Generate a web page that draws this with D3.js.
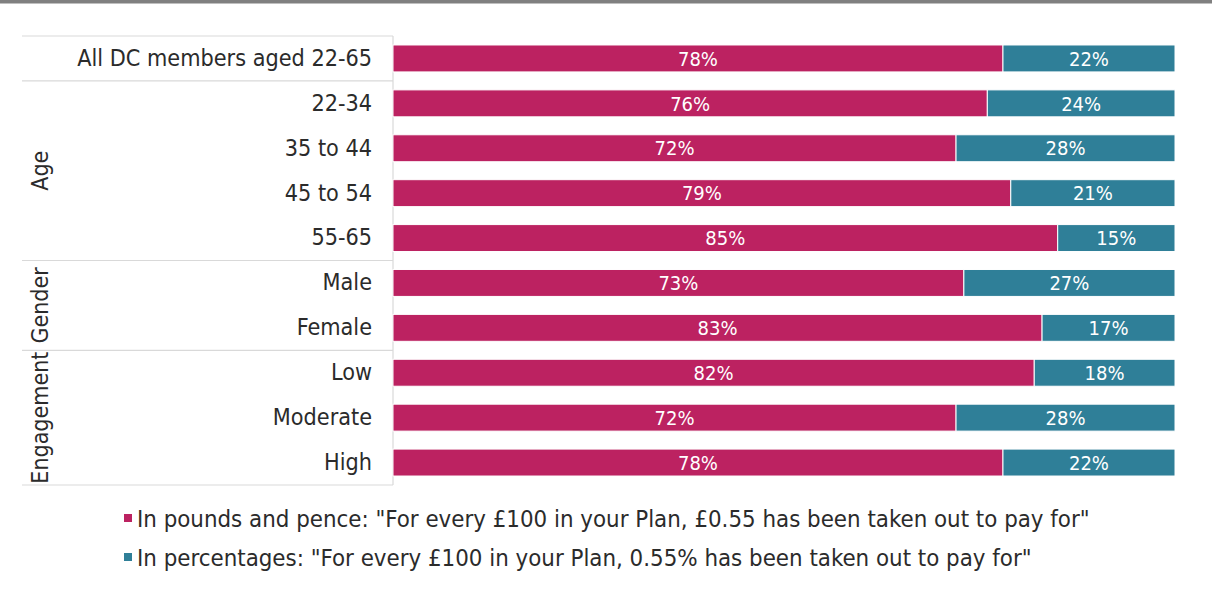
<!DOCTYPE html>
<html>
<head>
<meta charset="utf-8">
<script src="https://cdn.jsdelivr.net/npm/d3@7"></script>
<style>
  html, body { margin: 0; padding: 0; background: #fff; }
  svg { display: block; }
  text { font-family: "DejaVu Sans Condensed", "DejaVu Sans", sans-serif; }
</style>
</head>
<body>
<svg id="chart" width="1212" height="596"></svg>
<script>
// Row labels, top to bottom
const categories = [
  "All DC members aged 22-65",
  "22-34", "35 to 44", "45 to 54", "55-65",
  "Male", "Female",
  "Low", "Moderate", "High"
];
// Share preferring each wording (%)
const poundsValues  = [78, 76, 72, 79, 85, 73, 83, 82, 72, 78];
const percentValues = [22, 24, 28, 21, 15, 27, 17, 18, 28, 22];

// Grouping of rows (first/last category of each group)
const groupNames = ["Age", "Gender", "Engagement"];
const groupStart = ["22-34", "Male", "Low"];
const groupEnd   = ["55-65", "Female", "High"];

const seriesNames = [
  "In pounds and pence: \"For every £100 in your Plan, £0.55 has been taken out to pay for\"",
  "In percentages: \"For every £100 in your Plan, 0.55% has been taken out to pay for\""
];
const seriesColors = ["#bc2261", "#2f7f98"];

const svg = d3.select("#chart");
const W = 1212, H = 596;
const textColor = "#2b2b2b";

// page frame rule along the top
svg.append("rect").attr("x", 0).attr("y", 0).attr("width", W).attr("height", 3.5).attr("fill", "#808080");

const x = d3.scaleLinear().domain([0, 100]).range([393, 1175]);
const y = d3.scaleBand().domain(categories).range([36, 485]).paddingInner(0.4).paddingOuter(0.2);

const step = y.step();
const rowTop = c => y(c) - step * 0.2;
const rowBottom = c => y(c) + y.bandwidth() + step * 0.2;

// table rules on the category side
const gridColor = "#d9d9d9";
const tableLeft = 22;
const rules = [rowTop(categories[0]), rowBottom(categories[0])];
groupEnd.forEach(c => rules.push(rowBottom(c)));
svg.append("g").selectAll("line").data(rules).join("line")
  .attr("x1", tableLeft).attr("x2", x(0))
  .attr("y1", d => d).attr("y2", d => d)
  .attr("stroke", gridColor).attr("stroke-width", 1.2);
svg.append("line")
  .attr("x1", x(0)).attr("x2", x(0))
  .attr("y1", rowTop(categories[0])).attr("y2", rowBottom(categories[categories.length - 1]))
  .attr("stroke", gridColor).attr("stroke-width", 1.2);

// category axis
const yAxis = d3.axisLeft(y).tickSize(0).tickPadding(21);
const ag = svg.append("g").attr("transform", `translate(${x(0)},0)`).call(yAxis);
ag.select(".domain").remove();
ag.selectAll("text")
  .attr("font-family", "DejaVu Sans Condensed, DejaVu Sans, sans-serif")
  .attr("font-size", 23.2).attr("fill", textColor);

// group labels, rotated
groupNames.forEach((g, i) => {
  const cy = (rowTop(groupStart[i]) + rowBottom(groupEnd[i])) / 2;
  svg.append("text")
    .attr("transform", `translate(39.5,${cy}) rotate(-90)`)
    .attr("text-anchor", "middle").attr("dy", "0.35em")
    .attr("font-size", 23).attr("fill", textColor)
    .text(g);
});

// stacked bars
const rows = categories.map((c, i) => ({ cat: c, vals: [poundsValues[i], percentValues[i]] }));
const bars = svg.append("g");
rows.forEach(r => {
  let acc = 0;
  r.vals.forEach((v, k) => {
    const x0 = acc, x1 = acc + v;
    bars.append("rect")
      .attr("x", x(x0)).attr("width", x(x1) - x(x0))
      .attr("y", y(r.cat)).attr("height", y.bandwidth())
      .attr("fill", seriesColors[k]).attr("stroke", "#fff").attr("stroke-width", 1);
    bars.append("text")
      .attr("x", (x(x0) + x(x1)) / 2).attr("y", y(r.cat) + y.bandwidth() / 2)
      .attr("dy", "0.36em").attr("text-anchor", "middle")
      .attr("font-size", 20).attr("fill", "#fff")
      .text(v + "%");
    acc = x1;
  });
});

// legend
const legend = svg.append("g");
seriesNames.forEach((name, k) => {
  const ly = 518 + k * 39;
  legend.append("rect").attr("x", 124).attr("y", ly - 4).attr("width", 8).attr("height", 8)
    .attr("fill", seriesColors[k]);
  legend.append("text").attr("x", 137).attr("y", ly).attr("dy", "0.36em")
    .attr("font-size", 23.8).attr("fill", textColor).text(name);
});
</script>
</body>
</html>
